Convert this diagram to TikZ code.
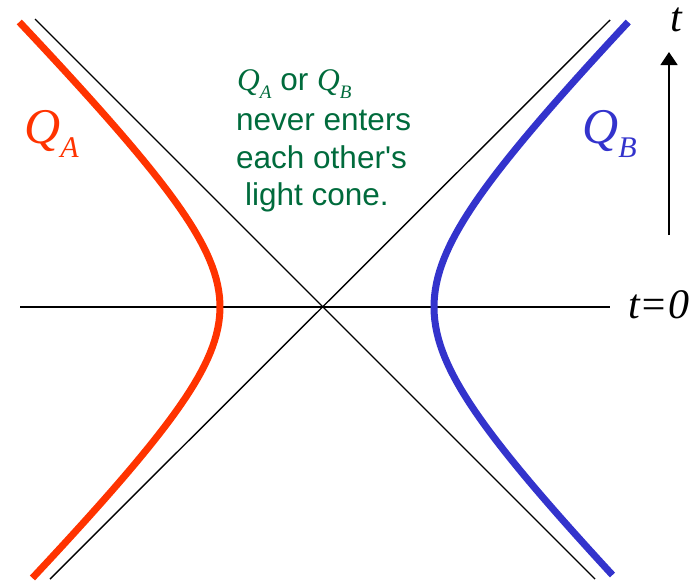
\documentclass[tikz,border=0pt]{standalone}
\usepackage{fontspec}
\setmainfont{Liberation Serif}
\newfontfamily\arialfont{Liberation Sans}
\usetikzlibrary{arrows.meta}
\definecolor{qred}{HTML}{FF3300}
\definecolor{qblue}{HTML}{3333CC}
\definecolor{qgreen}{HTML}{006B3C}
\tikzset{
  axisline/.style={black, line width=1.4pt},
  worldline/.style={line width=7pt},
  qlabel/.style={anchor=base west, inner sep=0pt, font=\fontsize{50}{50}\selectfont\itshape},
  greentext/.style={anchor=base west, inner sep=0pt, text=qgreen, font=\arialfont\fontsize{31.5}{31.5}\selectfont},
  tlabel/.style={inner sep=0pt, font=\fontsize{42}{42}\selectfont\itshape}
}
\newcommand{\subA}[2]{\raisebox{-0.28em}{\fontsize{#1}{#1}\selectfont\itshape #2}}
\begin{document}
\begin{tikzpicture}[x=1pt,y=-1pt]
\useasboundingbox (0,0) rectangle (693,582);
% light cone and t=0 line
\coordinate (l1a) at (35,19);
\coordinate (l1b) at (595,579);
\coordinate (l2a) at (610,20);
\coordinate (l2b) at (50,579);
\coordinate (h1) at (20,307);
\coordinate (h2) at (610,307);
\draw[axisline] (l1a) -- (l1b);
\draw[axisline] (l2a) -- (l2b);
\draw[axisline] (h1) -- (h2);
% world lines
\draw[worldline, qred] plot[domain=-285:271, samples=90, variable=\s]
  ({322-100*sqrt(1.0404+(\s/100)*(\s/100))},{307+\s});
\draw[worldline, qblue] plot[domain=-285:268, samples=90, variable=\s]
  ({322+100*sqrt(1.2544+(\s/100)*(\s/100))},{307+\s});
% time arrow
\coordinate (ab) at (669,235);
\coordinate (at) at (669,52);
\draw[black, line width=1.4pt, -{Triangle[width=17pt,length=13pt]}] (ab) -- (at);
\node[tlabel, anchor=base] (tt) at (676,31) {t};
\node[tlabel, anchor=base west] (t0) at (628,318) {t=0};
% labels
\node[qlabel, text=qred] (qa) at (24,143) {Q\subA{30}{A}};
\node[qlabel, text=qblue] (qb) at (582,143) {Q\subA{30}{B}};
% green text
\node[greentext] (g1) at (237,90) {{\rmfamily\itshape Q\subA{19}{A}} or {\rmfamily\itshape Q\subA{19}{B}}};
\node[greentext] (g2) at (236,130) {never enters};
\node[greentext] (g3) at (236,168) {each other's};
\node[greentext] (g4) at (245,205) {light cone.};
\end{tikzpicture}
\end{document}
